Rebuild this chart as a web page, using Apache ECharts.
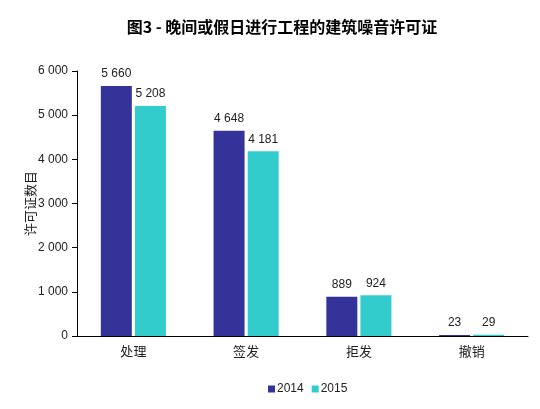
<!DOCTYPE html>
<html>
<head>
<meta charset="utf-8">
<script src="https://cdn.jsdelivr.net/npm/echarts@6/dist/echarts.min.js"></script>
<style>
  html, body { margin: 0; padding: 0; background: #fff; }
  #main { width: 540px; height: 409px; }
</style>
</head>
<body>
<div id="main"></div>
<script>
var categories = ['处理', '签发', '拒发', '撤销'];
var years = ['2014', '2015'];
var data2014 = [5660, 4648, 889, 23];
var data2015 = [5208, 4181, 924, 29];
var colors = ['#333399', '#33CCCC'];

function fmt(v) {
  return String(v).replace(/\B(?=(\d{3})+(?!\d))/g, ' ');
}

window.onload = function() {
  var ch = echarts.init(document.getElementById('main'));
  var font = "Arial, 'Liberation Sans', 'Noto Sans CJK SC', sans-serif";
  var op = {
    textStyle: { fontFamily: font },
    title: {
      text: '图3 - 晚间或假日进行工程的建筑噪音许可证',
      left: 277,
      textAlign: 'center',
      top: 14,
      textStyle: { fontSize: 16, fontWeight: 'bold', color: '#000', fontFamily: "'Noto Sans CJK SC', sans-serif" }
    },
    legend: {
      bottom: 9,
      left: 263,
      itemWidth: 7,
      itemHeight: 7,
      itemGap: 8,
      icon: 'rect',
      textStyle: { fontSize: 12, color: '#222', padding: [0, 0, 0, -3] },
      data: years
    },
    grid: { left: 77, right: 12, top: 71, bottom: 73, containLabel: false },
    xAxis: {
      type: 'category',
      data: categories,
      axisLine: { lineStyle: { color: '#000' } },
      axisTick: { show: false },
      axisLabel: { color: '#222', fontSize: 13, margin: 10 }
    },
    yAxis: {
      type: 'value',
      min: 0,
      max: 6000,
      interval: 1000,
      name: '许可证数目',
      nameLocation: 'middle',
      nameGap: 39,
      nameMoveOverlap: false,
      nameTextStyle: { fontSize: 13, color: '#222' },
      axisLine: { show: true, lineStyle: { color: '#000' } },
      axisTick: { show: true, length: 5, lineStyle: { color: '#000' } },
      axisLabel: { color: '#222', fontSize: 12, margin: 9, formatter: fmt },
      splitLine: { show: false }
    },
    series: [{
      name: years[0],
      type: 'bar',
      data: data2014,
      barWidth: 31,
      barGap: '10%',
      itemStyle: { color: colors[0] },
      label: { show: true, position: 'top', distance: 6, color: '#222', fontSize: 12, formatter: function(p) { return fmt(p.value); } }
    }, {
      name: years[1],
      type: 'bar',
      data: data2015,
      barWidth: 31,
      itemStyle: { color: colors[1] },
      label: { show: true, position: 'top', distance: 6, color: '#222', fontSize: 12, formatter: function(p) { return fmt(p.value); } }
    }]
  };
  ch.setOption(op);
};
</script>
</body>
</html>
